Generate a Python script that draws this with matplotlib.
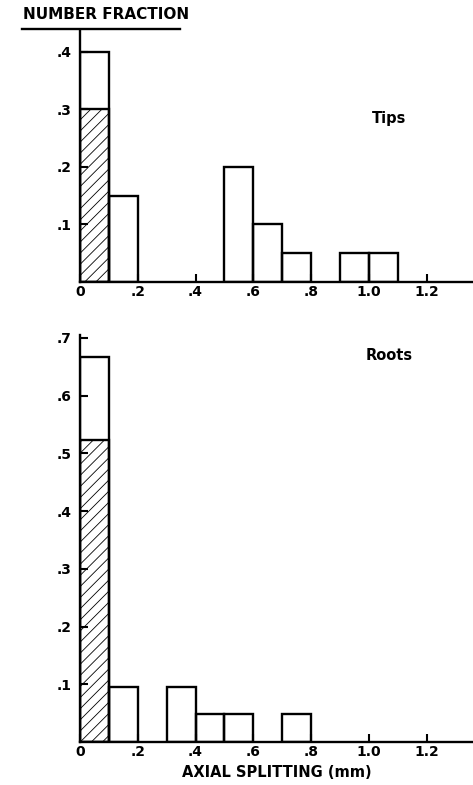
import matplotlib.pyplot as plt

# bin left edges (mm) and number fractions per bin
tips_edges = [0.0, 0.1, 0.5, 0.6, 0.7, 0.9, 1.0]
tips_frac = [0.40, 0.15, 0.20, 0.10, 0.05, 0.05, 0.05]
tips_hatched = 0.30

roots_edges = [0.0, 0.1, 0.3, 0.4, 0.5, 0.7]
roots_frac = [14 / 21, 2 / 21, 2 / 21, 1 / 21, 1 / 21, 1 / 21]
roots_hatched = 11 / 21

x_ticks = [0.0, 0.2, 0.4, 0.6, 0.8, 1.0, 1.2]
x_labels = ["0", ".2", ".4", ".6", ".8", "1.0", "1.2"]
tips_yticks = [0.1, 0.2, 0.3, 0.4]
tips_ylabels = [".1", ".2", ".3", ".4"]
roots_yticks = [0.1, 0.2, 0.3, 0.4, 0.5, 0.6, 0.7]
roots_ylabels = [".1", ".2", ".3", ".4", ".5", ".6", ".7"]

BIN = 0.1
LW = 1.7
plt.rcParams["hatch.linewidth"] = 0.6
plt.rcParams["font.family"] = "DejaVu Sans"
plt.rcParams["font.weight"] = "bold"

fig = plt.figure(figsize=(4.73, 7.85), dpi=100)
ax_top = fig.add_axes([0.169, 0.6408, 0.831, 0.321])
ax_bot = fig.add_axes([0.169, 0.0548, 0.831, 0.5185])


def draw_hist(ax, edges, fracs, hatched, yticks, ylabels, ymax):
    ax.bar(edges[0], hatched, width=BIN, align="edge", fill=False,
           edgecolor="black", linewidth=LW, hatch="///")
    ax.bar(edges, fracs, width=BIN, align="edge", fill=False,
           edgecolor="black", linewidth=LW)
    ax.set_xlim(0, 1.36)
    ax.set_ylim(0, ymax)
    for side in ("top", "right"):
        ax.spines[side].set_visible(False)
    for side in ("left", "bottom"):
        ax.spines[side].set_linewidth(LW)
    ax.set_xticks(x_ticks, x_labels)
    ax.set_yticks(yticks, ylabels)
    ax.tick_params(direction="in", length=6, width=1.5, labelsize=10)
    ax.tick_params(axis="y", pad=6)
    ax.tick_params(axis="x", pad=2)


draw_hist(ax_top, tips_edges, tips_frac, tips_hatched,
          tips_yticks, tips_ylabels, 0.438)
draw_hist(ax_bot, roots_edges, roots_frac, roots_hatched,
          roots_yticks, roots_ylabels, 0.705)

ax_top.text(1.07, 0.285, "Tips", ha="center", va="center",
            fontsize=10.5, fontweight="bold")
ax_bot.text(1.07, 0.67, "Roots", ha="center", va="center",
            fontsize=10.5, fontweight="bold")

fig.text(0.225, 0.981, "NUMBER FRACTION", ha="center", va="center",
         fontsize=11, fontweight="bold")
fig.add_artist(plt.Line2D([0.047, 0.38], [0.963, 0.963], color="black",
                          linewidth=LW, transform=fig.transFigure))
fig.text(0.585, 0.016, "AXIAL SPLITTING (mm)", ha="center", va="center",
         fontsize=10.5, fontweight="bold")

fig.savefig("out.png", dpi=100)
